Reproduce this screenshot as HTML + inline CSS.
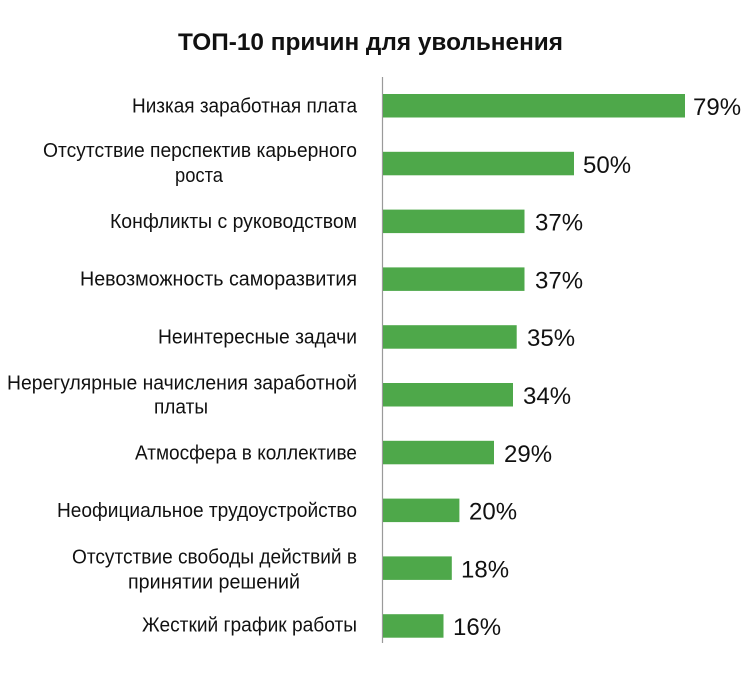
<!DOCTYPE html>
<html>
<head>
<meta charset="utf-8">
<style>
html,body{margin:0;padding:0;background:#fff;}
svg{display:block;}
text{font-family:"Liberation Sans","DejaVu Sans",sans-serif;fill:#111;}
</style>
</head>
<body>
<svg width="750" height="689" viewBox="0 0 750 689" xmlns="http://www.w3.org/2000/svg">
<rect width="750" height="689" fill="#fff"/>
<text x="178" y="50" font-size="24" font-weight="bold" textLength="385" lengthAdjust="spacingAndGlyphs">ТОП-10 причин для увольнения</text>

<line x1="382.5" y1="77" x2="382.5" y2="643" stroke="#9a9a9a" stroke-width="1.2"/>

<g fill="#4ea84a">
<rect x="383" y="94" width="302" height="23.5"/>
<rect x="383" y="151.8" width="191" height="23.5"/>
<rect x="383" y="209.6" width="141.5" height="23.5"/>
<rect x="383" y="267.4" width="141.5" height="23.5"/>
<rect x="383" y="325.2" width="133.7" height="23.5"/>
<rect x="383" y="383" width="130" height="23.5"/>
<rect x="383" y="440.8" width="111" height="23.5"/>
<rect x="383" y="498.6" width="76.4" height="23.5"/>
<rect x="383" y="556.4" width="68.8" height="23.5"/>
<rect x="383" y="614.2" width="60.5" height="23.5"/>
</g>

<g font-size="24">
<text x="693" y="115">79%</text>
<text x="583" y="172.8">50%</text>
<text x="535" y="230.6">37%</text>
<text x="535" y="288.4">37%</text>
<text x="527" y="346.2">35%</text>
<text x="523" y="404">34%</text>
<text x="504" y="461.8">29%</text>
<text x="469" y="519.6">20%</text>
<text x="461" y="577.4">18%</text>
<text x="453" y="635.2">16%</text>
</g>

<g font-size="20">
<text x="132" y="112.5" textLength="225" lengthAdjust="spacingAndGlyphs">Низкая заработная плата</text>
<text x="43" y="157" textLength="314" lengthAdjust="spacingAndGlyphs">Отсутствие перспектив карьерного</text>
<text x="175" y="182" textLength="48" lengthAdjust="spacingAndGlyphs">роста</text>
<text x="110" y="227.8" textLength="247" lengthAdjust="spacingAndGlyphs">Конфликты с руководством</text>
<text x="80" y="285.6" textLength="277" lengthAdjust="spacingAndGlyphs">Невозможность саморазвития</text>
<text x="158" y="343.4" textLength="199" lengthAdjust="spacingAndGlyphs">Неинтересные задачи</text>
<text x="7" y="389.3" textLength="350" lengthAdjust="spacingAndGlyphs">Нерегулярные начисления заработной</text>
<text x="154" y="413.3" textLength="54" lengthAdjust="spacingAndGlyphs">платы</text>
<text x="135" y="459.5" textLength="222" lengthAdjust="spacingAndGlyphs">Атмосфера в коллективе</text>
<text x="57" y="517" textLength="300" lengthAdjust="spacingAndGlyphs">Неофициальное трудоустройство</text>
<text x="72" y="563.5" textLength="285" lengthAdjust="spacingAndGlyphs">Отсутствие свободы действий в</text>
<text x="128" y="588.3" textLength="172" lengthAdjust="spacingAndGlyphs">принятии решений</text>
<text x="142" y="631.7" textLength="215" lengthAdjust="spacingAndGlyphs">Жесткий график работы</text>
</g>
</svg>
</body>
</html>
